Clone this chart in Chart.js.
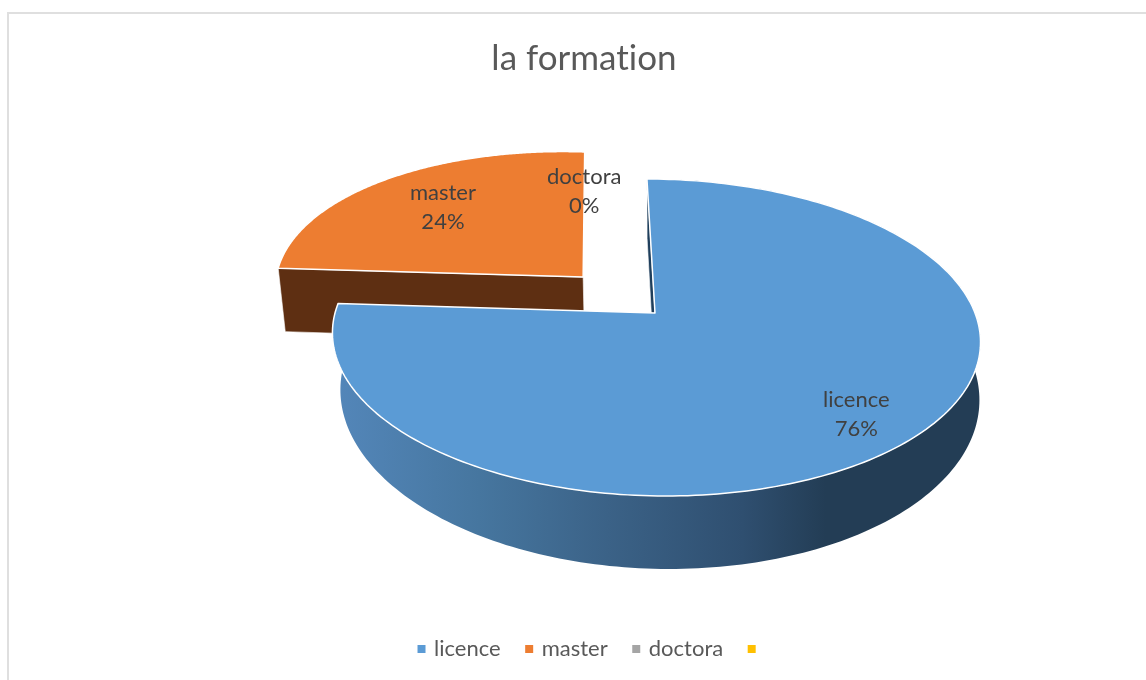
<!DOCTYPE html>
<html>
<head>
<meta charset="utf-8">
<title>la formation</title>
<script src="https://cdn.jsdelivr.net/npm/chart.js@4"></script>
<style>
html,body{margin:0;padding:0;background:#fff;overflow:hidden}
#cadre{position:absolute;left:7px;top:12px;right:-4px;bottom:-4px;border:2px solid #dfdfdf}
#graphe{position:absolute;left:0;top:0}
</style>
</head>
<body>
<div id="cadre"></div>
<canvas id="graphe" width="1146" height="680"></canvas>
<script>
// donnees
const categories=['licence','master','doctora',''];
const valeurs=[76,24,0,0];
const couleurs=['#5B9BD5','#ED7D31','#A5A5A5','#FFC000'];
const explosion=[0,0.33,0.33,0.33];
const posLabel=[0.81,0.72,0.66,0];
const titre='la formation';

const police='Lato';

// projection perspective du plan du camembert vers le canvas (z=1 : dessous)
function proj(u,v,z){
    const w=1-0.1546*v+0.02*z;
    return {x:655+(320*u+9.3*v)/w, y:313+(154.7*v+66.8*z)/w};
}
// le contour bas du tour est un peu plus haut que le plan z=1
function projFond(u,v){
    const w=1.02-0.1546*v;
    return {x:658.5+(322*u+9.3*v)/w, y:313+(164.8*v+56.7)/w};
}

function sommet(arcs,i){
    // une part vide reste collee a la part d'avant
    var a=arcs[i];
    if(a.circumference==0 && i>0) return sommet(arcs,i-1);
    const mid=(a.startAngle+a.endAngle)/2;
    return {u:explosion[i]*Math.cos(mid), v:explosion[i]*Math.sin(mid)};
}

function bord(s,ang1,ang2,f,bombe){
    var pts=[];
    for(var k=0;k<=240;k++){
        const a=ang1+(ang2-ang1)*k/240;
        const r=1+bombe*Math.sin(Math.PI*k/240);
        pts.push(f(s.u+r*Math.cos(a),s.v+r*Math.sin(a)));
    }
    return pts;
}
const dessus=(u,v)=>proj(u,v,0);

function trace(ctx,pts){
    pts.forEach(p=>ctx.lineTo(p.x,p.y));
}

function faceCoupe(ctx,s,ang,coul){
    const a=proj(s.u,s.v,0), b=proj(s.u+Math.cos(ang),s.v+Math.sin(ang),0);
    const c=proj(s.u+Math.cos(ang),s.v+Math.sin(ang),1), d=proj(s.u,s.v,1);
    ctx.beginPath();
    trace(ctx,[a,b,c,d]);
    ctx.closePath();
    ctx.fillStyle=coul;
    ctx.fill();
    ctx.strokeStyle='rgba(255,255,255,0.6)';
    ctx.lineWidth=1;
    ctx.stroke();
}

const pie3d={
    id:'pie3d',
    afterLayout(chart){
        // la legende de l'original est centree sans le dernier espace
        chart.legend.left+=8;
        chart.legend.right+=8;
    },
    beforeDraw(chart){
        // pas de ligature "ti" dans le texte
        chart.ctx.letterSpacing='0.01px';
    },
    beforeDatasetsDraw(chart){
        const ctx=chart.ctx;
        const arcs=chart.getDatasetMeta(0).data;
        const ordre=[1,0];
        ctx.save();
        ctx.lineJoin='round';
        ordre.forEach(i=>{
            const a=arcs[i];
            const s=sommet(arcs,i);
            if(explosion[i]>0){
                faceCoupe(ctx,s,a.startAngle,'#5E2F12');
            }else{
                faceCoupe(ctx,s,a.startAngle,'#1F3F5C');
                // tour exterieur
                const g=ctx.createLinearGradient(338,0,980,0);
                g.addColorStop(0,'#5386B9');
                g.addColorStop(0.22,'#46769F');
                g.addColorStop(0.42,'#3B6287');
                g.addColorStop(0.63,'#2F4F70');
                g.addColorStop(0.76,'#233D55');
                g.addColorStop(1,'#233D55');
                ctx.beginPath();
                trace(ctx,bord(s,a.startAngle,a.endAngle,dessus,0));
                trace(ctx,bord(s,a.startAngle,a.endAngle,projFond,0).reverse());
                ctx.closePath();
                ctx.fillStyle=g;
                ctx.fill();
            }
            // dessus
            ctx.beginPath();
            trace(ctx,[proj(s.u,s.v,0)]);
            trace(ctx,bord(s,a.startAngle,a.endAngle,dessus,explosion[i]>0?0.04:0));
            ctx.closePath();
            ctx.fillStyle=a.options.backgroundColor;
            ctx.fill();
            ctx.strokeStyle='#fff';
            ctx.lineWidth=1.5;
            ctx.stroke();
        });
        ctx.restore();
        return false;
    },
    afterDraw(chart){
        const ctx=chart.ctx;
        const arcs=chart.getDatasetMeta(0).data;
        const total=valeurs.reduce((x,y)=>x+y,0);
        ctx.save();
        ctx.font='22px '+police;
        ctx.fillStyle='#404040';
        ctx.textAlign='center';
        ctx.textBaseline='middle';
        arcs.forEach((a,i)=>{
            if(categories[i]=='') return;
            const s=sommet(arcs,i);
            const mid=(a.startAngle+a.endAngle)/2;
            const p=proj(s.u+posLabel[i]*Math.cos(mid),s.v+posLabel[i]*Math.sin(mid),0);
            ctx.fillText(categories[i],p.x,p.y-14);
            ctx.fillText(Math.round(valeurs[i]/total*100)+'%',p.x,p.y+15);
        });
        ctx.restore();
    }
};

new Chart(document.getElementById('graphe'),{
    type:'pie',
    data:{
        labels:categories,
        datasets:[{
            data:valeurs,
            backgroundColor:couleurs,
            borderColor:'#fff',
            borderWidth:0
        }]
    },
    options:{
        responsive:false,
        animation:false,
        layout:{padding:{left:22,right:0,top:38,bottom:10}},
        plugins:{
            title:{
                display:true,
                text:titre,
                color:'#595959',
                font:{family:police,size:35,weight:'normal'},
                padding:{top:0,bottom:10}
            },
            legend:{
                position:'bottom',
                labels:{
                    usePointStyle:true,
                    pointStyle:'rect',
                    boxWidth:3,
                    boxHeight:8,
                    padding:27,
                    color:'#595959',
                    font:{family:police,size:22}
                }
            },
            tooltip:{enabled:false}
        }
    },
    plugins:[pie3d]
});
</script>
</body>
</html>
